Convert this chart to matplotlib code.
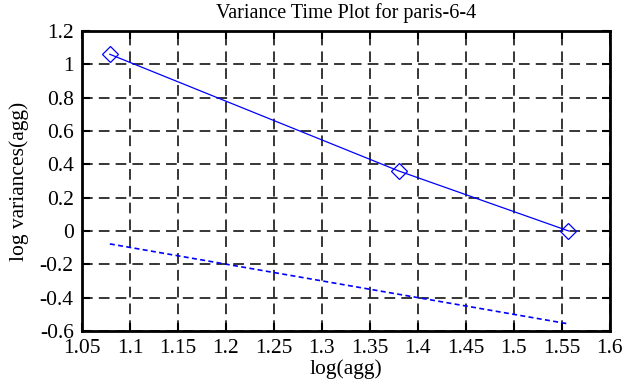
import matplotlib
matplotlib.use("Agg")
import matplotlib.pyplot as plt

# данные
agg = [1.079, 1.38, 1.557]
variances = [1.06, 0.36, 0.0]
fit_x = [1.079, 1.557]
fit_y = [-0.078, -0.558]

xticks = [1.05, 1.1, 1.15, 1.2, 1.25, 1.3, 1.35, 1.4, 1.45, 1.5, 1.55, 1.6]
xlabels = ["1.05", "1.1", "1.15", "1.2", "1.25", "1.3", "1.35", "1.4", "1.45", "1.5", "1.55", "1.6"]
yticks = [-0.6, -0.4, -0.2, 0, 0.2, 0.4, 0.6, 0.8, 1, 1.2]
ylabels = ["-0.6", "-0.4", "-0.2", "0", "0.2", "0.4", "0.6", "0.8", "1", "1.2"]

plt.rcParams["font.family"] = ["Liberation Serif", "DejaVu Serif"]

fig = plt.figure(figsize=(6.26, 3.87), dpi=100)
ax = fig.add_axes([0.131, 0.145, 0.843, 0.775])

ax.plot(agg, variances, color="#0000ff", linewidth=0.9, marker="D", markersize=8,
        markerfacecolor="none", markeredgecolor="#0000ff", markeredgewidth=0.9)
ax.plot(fit_x, fit_y, color="#0000ff", linewidth=1.2, linestyle=(0, (3, 2)))

ax.set_xlim(1.05, 1.6)
ax.set_ylim(-0.6, 1.2)
ax.set_xticks(xticks)
ax.set_xticklabels(xlabels)
ax.set_yticks(yticks)
ax.set_yticklabels(ylabels)

ax.grid(True, color="black", linestyle=(0, (7, 4)), linewidth=1.1)
ax.tick_params(direction="in", length=6, width=1.5, top=True, right=True,
               labelsize=15.5, colors="black", pad=6)
for s in ax.spines.values():
    s.set_linewidth(2)

ax.set_xlabel("log(agg)", fontsize=15.5, labelpad=1)
ax.set_ylabel("log variances(agg)", fontsize=15.5, labelpad=8)
ax.set_title("Variance Time Plot for paris-6-4", fontsize=14.5, pad=9)

fig.savefig("out.png", dpi=100)
